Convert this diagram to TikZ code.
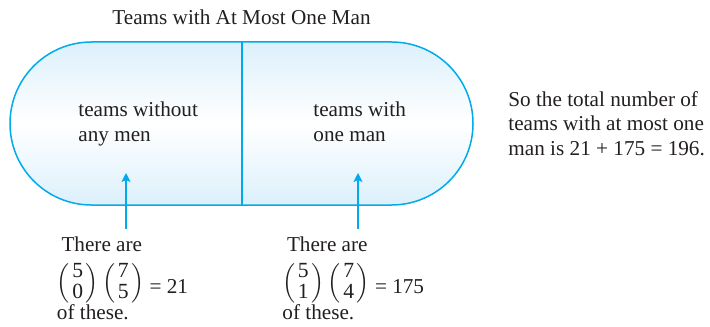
\documentclass[tikz,border=0pt]{standalone}
\usepackage{amsmath}
\usepackage{fontspec}
\setmainfont{Liberation Serif}
\usetikzlibrary{arrows.meta}
\definecolor{teamcyan}{RGB}{0,170,235}
\definecolor{teamfill}{RGB}{220,240,251}
\definecolor{teamtext}{RGB}{35,31,32}
\newcommand{\teamsel}[2]{\Bigl(\mkern2mu\vcenter{\hbox{\fontsize{10.8}{10.5}\selectfont
  \begin{tabular}{@{}c@{}}#1\\#2\end{tabular}}}\mkern2mu\Bigr)}

\begin{document}
\begin{tikzpicture}[x=0.5pt, y=-0.5pt,
    lbl/.style={align=left, inner sep=0pt, anchor=base west,
      font=\fontsize{10.6}{12.2}\selectfont, text=teamtext},
    arr/.style={-{Stealth[length=4.5pt, width=4.5pt, inset=1pt]}, teamcyan, line width=0.7pt},
    pill/.style={draw=teamcyan, line width=0.75pt,
      top color=teamfill, bottom color=teamfill, middle color=white}]
  \useasboundingbox (0,0) rectangle (710,326);
  % the set of teams, split in two
  \draw[pill] (91.5,42) -- (391.5,42) arc (-90:90:81.5)
    -- (91.5,205) arc (90:270:81.5) -- cycle;
  \draw[teamcyan, line width=0.75pt] (242,42) -- (242,205);
  \node[lbl, anchor=base] (title) at (241.5,25) {Teams with At Most One Man};
  % base anchor sits on the last line
  \node[lbl] (nomen) at (78,141) {teams without\\any men};
  \node[lbl] (oneman) at (313,141) {teams with\\one man};
  \node[lbl] (total) at (508,155) {So the total number of\\teams with at most one\\man is 21 + 175 = 196.};
  % counts below
  \node[lbl] (countL) at (56.5,319) {\hspace{2.3pt}There are\\[4.5pt]
    \raisebox{2.5pt}{$\teamsel{5}{0}\,\teamsel{7}{5}$}\ = 21\\[-1.2pt] of these.};
  \node[lbl] (countR) at (282,319) {\hspace{2.3pt}There are\\[4.5pt]
    \raisebox{2.5pt}{$\teamsel{5}{1}\,\teamsel{7}{4}$}\ = 175\\[-1.2pt] of these.};
  \coordinate (footL) at (126,229);
  \coordinate (tipL) at (126,173);
  \coordinate (footR) at (358,229);
  \coordinate (tipR) at (358,173);
  \draw[arr] (footL) -- (tipL);
  \draw[arr] (footR) -- (tipR);
\end{tikzpicture}
\end{document}
